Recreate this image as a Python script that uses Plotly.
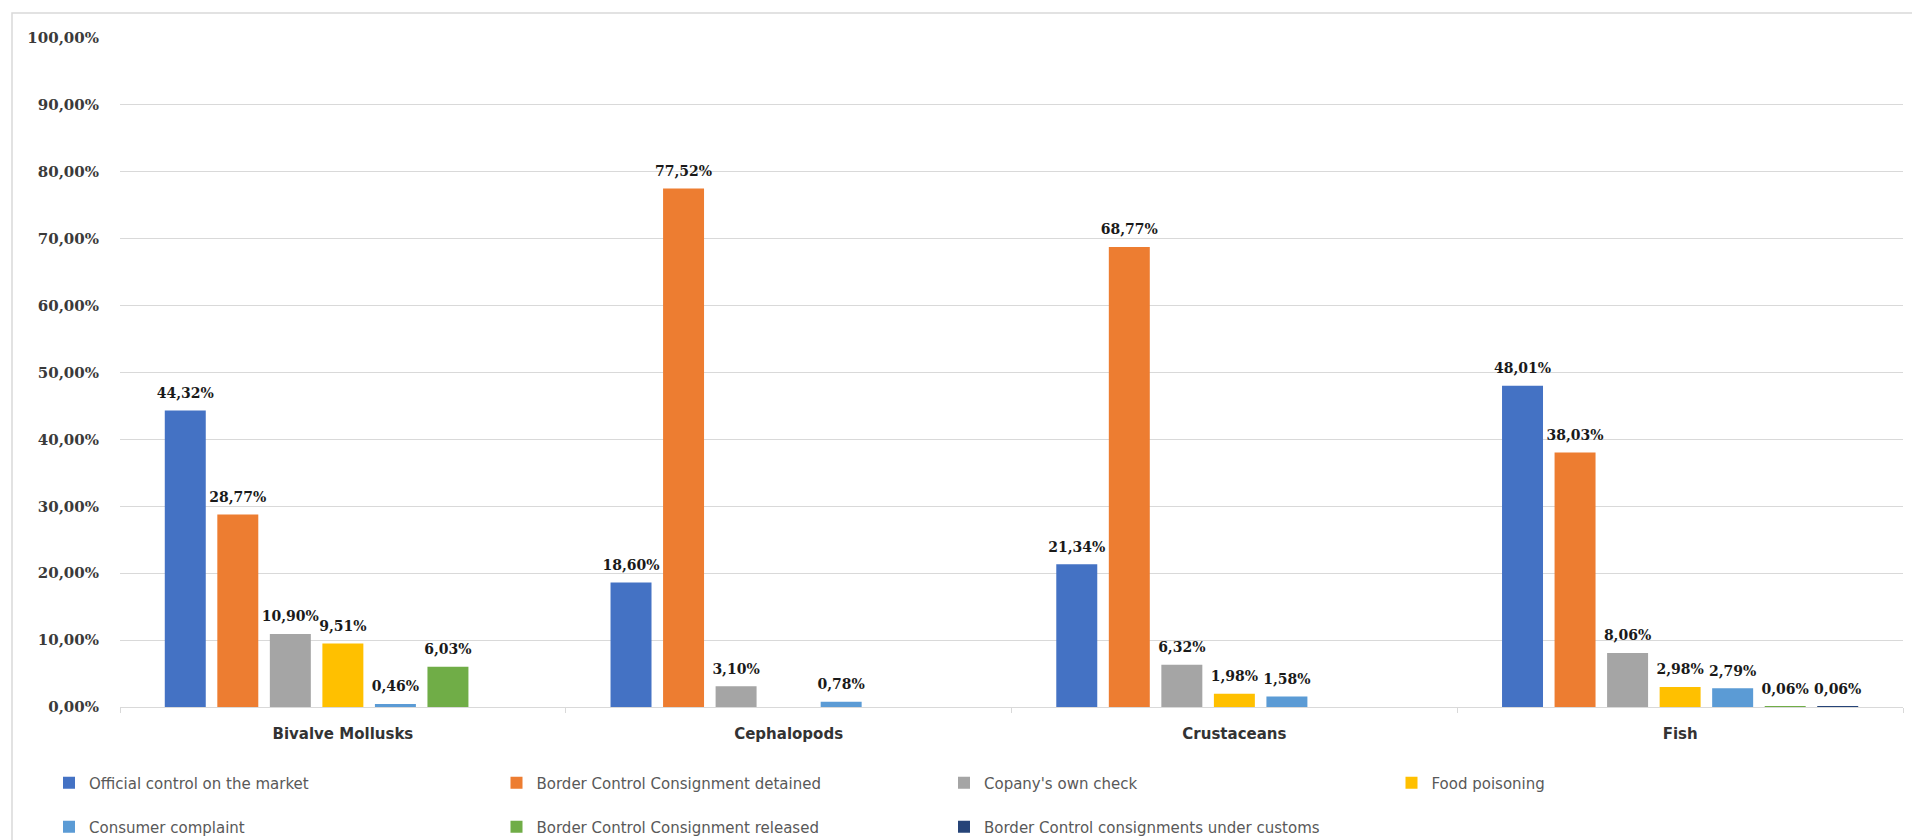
import plotly.graph_objects as go

categories = ["Bivalve Mollusks", "Cephalopods", "Crustaceans", "Fish"]

series_names = [
    "Official control on the market",
    "Border Control Consignment detained",
    "Copany's own check",
    "Food poisoning",
    "Consumer complaint",
    "Border Control Consignment released",
    "Border Control consignments under customs",
]

official_control = [44.32, 18.60, 21.34, 48.01]
consignment_detained = [28.77, 77.52, 68.77, 38.03]
own_check = [10.90, 3.10, 6.32, 8.06]
food_poisoning = [9.51, 0.0, 1.98, 2.98]
consumer_complaint = [0.46, 0.78, 1.58, 2.79]
consignment_released = [6.03, 0.0, 0.0, 0.06]
under_customs = [0.0, 0.0, 0.0, 0.06]

series_values = [official_control, consignment_detained, own_check, food_poisoning,
                 consumer_complaint, consignment_released, under_customs]

colors = ["#4472C4", "#ED7D31", "#A5A5A5", "#FFC000", "#5B9BD5", "#70AD47", "#264478"]
legend_ids = ["legend", "legend", "legend", "legend", "legend2", "legend2", "legend2"]

y_ticks = [0, 10, 20, 30, 40, 50, 60, 70, 80, 90, 100]


def fmt(v):
    return ("%.2f" % v).replace(".", ",") + "%"


y_ticktext = [fmt(v) for v in y_ticks]

fig = go.Figure()
for name, vals, col, lg in zip(series_names, series_values, colors, legend_ids):
    fig.add_trace(go.Bar(
        x=categories, y=vals, name=name, marker_color=col, marker_line_width=0,
        legend=lg, hoverinfo="skip",
    ))

# value labels, grouped the same way as the bars
for name, vals in zip(series_names, series_values):
    fig.add_trace(go.Scatter(
        x=categories, y=vals, mode="markers+text", showlegend=False,
        text=[fmt(v) if v > 0 else "" for v in vals], textposition="top center",
        marker=dict(size=13, opacity=0, color="black"),
        textfont=dict(family="DejaVu Serif", size=14, color="#1a1a1a", weight="bold"),
        cliponaxis=False, hoverinfo="skip",
    ))

L, R, T, B = 120, 9, 38, 133
W, H = 1912, 840
pw, ph = W - L - R, H - T - B


def px_x(x):
    return (x - L) / pw


def px_y(y):
    return (H - B - y) / ph


legend_font = dict(family="DejaVu Sans", size=15, color="#595959")
legend_common = dict(orientation="h", xanchor="left", yanchor="middle",
                     font=legend_font, entrywidth=402.5, entrywidthmode="pixels",
                     itemclick=False, traceorder="normal", bgcolor="rgba(0,0,0,0)")

fig.update_layout(
    width=W, height=H,
    margin=dict(l=L, r=R, t=T, b=B, autoexpand=False),
    paper_bgcolor="white", plot_bgcolor="white",
    barmode="group", bargap=0.175, bargroupgap=0.22,
    scattermode="group", scattergap=0.175,
    showlegend=True,
    legend=dict(x=px_x(49), y=px_y(783), **legend_common),
    legend2=dict(x=px_x(49), y=px_y(827), **legend_common),
    xaxis=dict(showline=True, linecolor="#d9d9d9", linewidth=1,
               ticks="outside", tickson="boundaries", ticklen=5, tickcolor="#d9d9d9",
               tickfont=dict(family="DejaVu Sans", size=15, color="#333333", weight="bold"),
               ticklabelstandoff=13, showgrid=False),
    yaxis=dict(range=[0, 100], tickvals=y_ticks, ticktext=y_ticktext,
               showgrid=True, gridcolor="#d9d9d9", gridwidth=1, zeroline=False,
               tickfont=dict(family="DejaVu Serif", size=15, color="#3a3a3a", weight="bold"),
               ticklabelstandoff=20, showline=False),
    shapes=[dict(type="rect", xref="paper", yref="paper",
                 x0=px_x(12), x1=px_x(1930), y0=px_y(860), y1=px_y(13),
                 line=dict(color="#d9d9d9", width=1.5), fillcolor="rgba(0,0,0,0)", layer="below")],
)

fig.write_html("out.html")
